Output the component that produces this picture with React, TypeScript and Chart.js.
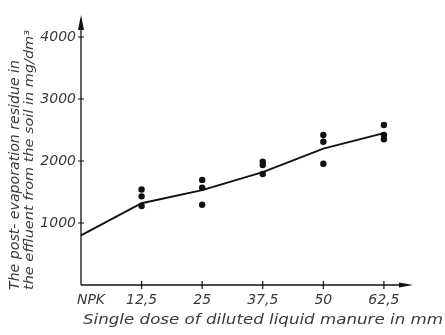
import React, { useEffect, useRef } from "react";
import { Chart, registerables } from "chart.js";

Chart.register(...registerables);

const categories = ["NPK", "12,5", "25", "37,5", "50", "62,5"];
const doseValues = [0, 12.5, 25, 37.5, 50, 62.5];
const meanResidue = [800, 1320, 1530, 1820, 2200, 2450];
const sampleDose = [12.5, 12.5, 12.5, 25, 25, 25, 37.5, 37.5, 37.5, 50, 50, 50, 62.5, 62.5, 62.5];
const sampleResidue = [1540, 1430, 1275, 1695, 1570, 1295, 1990, 1935, 1790, 2420, 2310, 1955, 2580, 2420, 2350];
const yTickValues = [1000, 2000, 3000, 4000];
const yTickLabels = ["1000", "2000", "3000", "4000"];
const xTitle = "Single dose of diluted liquid manure in mm";
const yTitleLines = ["The post- evaporation residue in", "the effluent from the soil in mg/dm³"];

const FONT = 'italic 14px "DejaVu Sans"';
const TEXT_COLOR = "#3a3a3a";

const axesPlugin = {
  id: "customAxes",
  beforeDatasetsDraw(chart: any) {
    const ctx = chart.ctx;
    const x = chart.scales.x;
    const y = chart.scales.y;
    const x0 = x.getPixelForValue(0);
    const y0 = y.getPixelForValue(0);
    const xEnd = x.right;
    const yTop = y.top;
    ctx.save();
    ctx.strokeStyle = "#111";
    ctx.fillStyle = "#111";
    ctx.lineWidth = 1.3;
    ctx.beginPath();
    ctx.moveTo(x0, y0);
    ctx.lineTo(x0, yTop + 6);
    ctx.moveTo(x0, y0);
    ctx.lineTo(xEnd - 6, y0);
    ctx.stroke();
    ctx.beginPath();
    ctx.moveTo(x0, yTop);
    ctx.lineTo(x0 - 3, yTop + 15);
    ctx.lineTo(x0 + 3, yTop + 15);
    ctx.closePath();
    ctx.fill();
    ctx.beginPath();
    ctx.moveTo(xEnd, y0);
    ctx.lineTo(xEnd - 14, y0 - 2.5);
    ctx.lineTo(xEnd - 14, y0 + 2.5);
    ctx.closePath();
    ctx.fill();
    ctx.lineWidth = 1.2;
    ctx.beginPath();
    yTickValues.forEach((v) => {
      const py = y.getPixelForValue(v);
      ctx.moveTo(x0 - 3, py);
      ctx.lineTo(x0 + 3, py);
    });
    doseValues.forEach((v) => {
      if (v === 0) return;
      const px = x.getPixelForValue(v);
      ctx.moveTo(px, y0 - 4);
      ctx.lineTo(px, y0 + 4);
    });
    ctx.stroke();
    ctx.restore();
  },
  afterDraw(chart: any) {
    const ctx = chart.ctx;
    const x = chart.scales.x;
    const y = chart.scales.y;
    const x0 = x.getPixelForValue(0);
    const y0 = y.getPixelForValue(0);
    ctx.save();
    ctx.font = FONT;
    ctx.fillStyle = TEXT_COLOR;
    ctx.textAlign = "right";
    ctx.textBaseline = "middle";
    yTickValues.forEach((v, i) => {
      ctx.fillText(yTickLabels[i], x0 - 5, y.getPixelForValue(v));
    });
    ctx.textAlign = "center";
    doseValues.forEach((v, i) => {
      const px = x.getPixelForValue(v) + (v === 0 ? 10 : 0);
      ctx.fillText(categories[i], px, y0 + 15);
    });
    const drawFit = (text: string, tx: number, ty: number, target: number, rot: boolean, font: string) => {
      ctx.save();
      ctx.font = font;
      const w = ctx.measureText(text).width;
      ctx.translate(tx, ty);
      if (rot) ctx.rotate(-Math.PI / 2);
      ctx.scale(target / w, 1);
      ctx.textAlign = "left";
      ctx.textBaseline = "middle";
      ctx.fillText(text, 0, 0);
      ctx.restore();
    };
    drawFit(xTitle, x0 + 2, y0 + 35, 360, false, FONT);
    drawFit(yTitleLines[0], 15, 290, 230, true, FONT);
    drawFit(yTitleLines[1], 30, 290, 260, true, 'italic 13px "DejaVu Sans"');
    ctx.restore();
  },
};

export default function App() {
  const ref = useRef<HTMLCanvasElement | null>(null);
  useEffect(() => {
    if (!ref.current) return;
    const chart = new Chart(ref.current, {
      type: "scatter",
      data: {
        datasets: [
          {
            type: "line",
            data: doseValues.map((d, i) => ({ x: d, y: meanResidue[i] })),
            borderColor: "#111",
            borderWidth: 2,
            pointRadius: 0,
            fill: false,
            tension: 0,
          },
          {
            type: "scatter",
            data: sampleDose.map((d, i) => ({ x: d, y: sampleResidue[i] })),
            backgroundColor: "#111",
            borderColor: "#111",
            pointRadius: 3.2,
            pointBorderWidth: 0,
          },
        ],
      },
      options: {
        responsive: false,
        animation: false,
        layout: { padding: { left: 81, right: 32, top: 15, bottom: 50 } },
        plugins: { legend: { display: false }, tooltip: { enabled: false } },
        scales: {
          x: { type: "linear", display: false, min: 0, max: 68.5 },
          y: { type: "linear", display: false, min: 0, max: 4355 },
        },
      },
      plugins: [axesPlugin],
    });
    return () => chart.destroy();
  }, []);
  return (
    <div style={{ position: "fixed", left: 0, top: 0, width: 445, height: 335, background: "#fff" }}>
      <canvas ref={ref} width={445} height={335} style={{ width: 445, height: 335 }} />
    </div>
  );
}
